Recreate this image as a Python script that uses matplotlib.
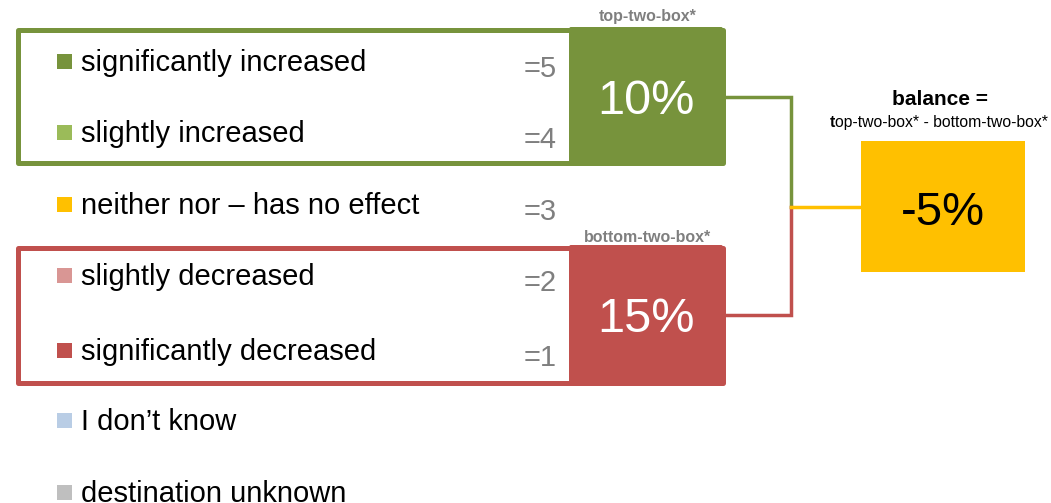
import matplotlib.pyplot as plt
from matplotlib.patches import Rectangle, FancyBboxPatch

plt.rcParams['font.family'] = ['Liberation Sans', 'DejaVu Sans']

# answer categories of the scale, top to bottom
labels = ['significantly increased', 'slightly increased', 'neither nor \u2013 has no effect',
          'slightly decreased', 'significantly decreased', 'I don\u2019t know', 'destination unknown']
colors = ['#77933C', '#9BBB59', '#FFC000', '#D99694', '#C0504D', '#B9CDE5', '#BFBFBF']
scale = ['=5', '=4', '=3', '=2', '=1', '', '']

top_two = 10      # % share of codes 5 + 4
bottom_two = 15   # % share of codes 2 + 1
balance = top_two - bottom_two

green = '#77933C'
red = '#C0504D'
yellow = '#FFC000'

fig = plt.figure(figsize=(10.51, 5.03), dpi=100)
ax = fig.add_axes([0, 0, 1, 1])
ax.set_xlim(0, 1051)
ax.set_ylim(503, 0)
ax.axis('off')

# legend rows
row_y = [61, 132, 204, 275, 350, 420, 492]
for y, lab, c, s in zip(row_y, labels, colors, scale):
    ax.add_patch(Rectangle((57, y - 7.5), 15, 15, color=c, lw=0))
    ax.text(81, y + 2, lab, fontsize=21, va='center', ha='left', color='black')
    if s:
        ax.text(557, y + 8, s, fontsize=21, va='center', ha='right', color='#7F7F7F')


def group_box(y0, y1, col, value, title, title_y):
    # outline around the two rows plus the filled value block
    ax.add_patch(Rectangle((18, y0), 705, y1 - y0, fill=False, ec=col, lw=3.6,
                           joinstyle='round', zorder=2))
    ax.add_patch(FancyBboxPatch((569, y0 - 2.5), 154, y1 - y0 + 5,
                                boxstyle='round,pad=0,rounding_size=2',
                                fc=col, ec='none', zorder=3))
    ax.text(646, (y0 + y1) / 2 + 5, f'{value}%', fontsize=35, color='white',
            ha='center', va='center', zorder=4)
    ax.text(648, title_y, title, fontsize=11.5, color='#7F7F7F', fontweight='bold',
            ha='center', va='center')


group_box(29.5, 162.5, green, top_two, 'top-two-box*', 16)
group_box(247.5, 382.5, red, bottom_two, 'bottom-two-box*', 237)

# connectors
ax.plot([723, 791, 791], [97, 97, 207], color=green, lw=2.5, solid_joinstyle='miter')
ax.plot([723, 791, 791], [315, 315, 207], color=red, lw=2.5, solid_joinstyle='miter')
ax.plot([791, 860], [207, 207], color=yellow, lw=2.5)

# balance block
ax.add_patch(Rectangle((861, 141), 164, 131, color=yellow, lw=0))
ax.text(943, 213, f'{balance}%', fontsize=34, color='black', ha='center', va='center')
ax.text(940, 99, 'balance =', fontsize=15, fontweight='bold', ha='center', va='center')

# formula line: bold first letter, rest regular
fig.canvas.draw()
renderer = fig.canvas.get_renderer()
t1 = ax.text(830, 122, 't', fontsize=11.3, fontweight='bold', ha='left', va='center')
bb = t1.get_window_extent(renderer)
x_next = ax.transData.inverted().transform((bb.x1, bb.y0))[0]
ax.text(x_next, 122, 'op-two-box* - bottom-two-box*', fontsize=11.3, ha='left', va='center')

fig.savefig('out.png', dpi=100)
